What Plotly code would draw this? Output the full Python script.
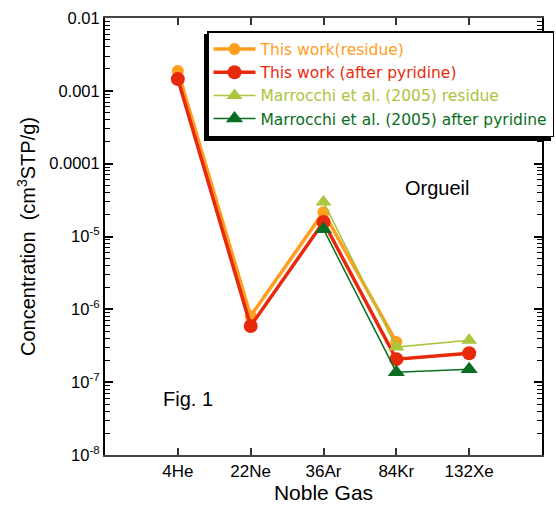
import plotly.graph_objects as go

gases = ["4He", "22Ne", "36Ar", "84Kr", "132Xe"]
this_residue = [1.87e-3, 8.1e-7, 2.16e-5, 3.55e-7, None]
this_pyridine = [1.45e-3, 5.9e-7, 1.58e-5, 2.07e-7, 2.5e-7]
marr_residue = [None, None, 2.97e-5, 3.03e-7, 3.77e-7]
marr_pyridine = [None, None, 1.26e-5, 1.37e-7, 1.51e-7]

ytickvals = [1e-2, 1e-3, 1e-4, 1e-5, 1e-6, 1e-7, 1e-8]
yticktext = ["0.01", "0.001", "0.0001", "10<sup>-5</sup>", "10<sup>-6</sup>",
             "10<sup>-7</sup>", "10<sup>-8</sup>"]

C_OR, C_RED, C_LG, C_DG = "#FF9E1F", "#E82A0C", "#A9C63C", "#0A6E22"
FONT = "Liberation Sans, Arial, sans-serif"
LFONT = "DejaVu Sans, Verdana, sans-serif"
xs = list(range(len(gases)))
minor_vals = [m * 10.0 ** e for e in range(-8, -2) for m in range(2, 10)]

W, H = 556, 506
ML, MR, MT, MB = 105, 14, 18, 51
PW, PH = W - ML - MR, H - MT - MB


def px(x):
    return (x - ML) / PW


def py(y):
    return (H - MB - y) / PH


def lab(text, color):
    return f"<span style='color:{color}'>{text}</span>"


fig = go.Figure()
fig.add_trace(go.Scatter(x=xs, y=this_residue, name=lab("This work(residue)", C_OR), mode="lines+markers",
                         line=dict(color=C_OR, width=3.5),
                         marker=dict(symbol="circle", size=12, color=C_OR)))
fig.add_trace(go.Scatter(x=xs, y=this_pyridine, name=lab("This work (after pyridine)", C_RED), mode="lines+markers",
                         line=dict(color=C_RED, width=3.5),
                         marker=dict(symbol="circle", size=14, color=C_RED)))
fig.add_trace(go.Scatter(x=xs, y=marr_residue, name=lab("Marrocchi et al. (2005) residue", C_LG), mode="lines+markers",
                         line=dict(color=C_LG, width=1.5),
                         marker=dict(symbol="triangle-up", size=14, color=C_LG)))
fig.add_trace(go.Scatter(x=xs, y=marr_pyridine, name=lab("Marrocchi et al. (2005) after pyridine", C_DG), mode="lines+markers",
                         line=dict(color=C_DG, width=1.5),
                         marker=dict(symbol="triangle-up", size=15, color=C_DG)))

fig.update_layout(
    width=W, height=H,
    margin=dict(l=ML, r=MR, t=MT, b=MB, autoexpand=False),
    paper_bgcolor="white", plot_bgcolor="white",
    font=dict(family=FONT, size=16, color="black"),
    showlegend=True,
    legend=dict(x=px(207), y=py(31), xanchor="left", yanchor="top",
                bgcolor="white", bordercolor="black", borderwidth=1.5,
                font=dict(size=15.5, family=LFONT), tracegroupgap=0,
                itemwidth=42),
    xaxis=dict(
        range=[-1, 5], tickmode="array", tickvals=xs, ticktext=gases,
        ticks="inside", ticklen=7, tickcolor="#333", tickwidth=1.5,
        showline=True, linecolor="#444", linewidth=2, mirror="ticks",
        showgrid=False, zeroline=False,
        title=dict(text="Noble Gas", font=dict(size=21, family=FONT), standoff=2),
        tickfont=dict(size=17, family=FONT),
    ),
    yaxis=dict(
        type="log", range=[-8, -2], tickmode="array", tickvals=ytickvals, ticktext=yticktext,
        ticks="inside", ticklen=8, tickcolor="black", tickwidth=1.5,
        showline=True, linecolor="black", linewidth=2, mirror="ticks",
        showgrid=False, zeroline=False,
        minor=dict(ticks="inside", ticklen=5, tickcolor="black", tickwidth=1,
                   tickmode="array", tickvals=minor_vals, showgrid=False),
        title=dict(text="Concentration  (cm<sup>3</sup>STP/g)", font=dict(size=20, family=FONT), standoff=8),
        tickfont=dict(size=16.5, family=FONT),
    ),
    shapes=[
        dict(type="rect", xref="paper", yref="paper", x0=px(204), x1=px(551), y0=py(34), y1=py(141),
             fillcolor="black", line=dict(width=0), layer="above"),
    ],
    annotations=[
        dict(text="Orgueil", x=px(471), y=py(188), xref="paper", yref="paper", showarrow=False,
             font=dict(size=20, family=FONT)),
        dict(text="Fig. 1", x=px(161), y=py(412), xref="paper", yref="paper", showarrow=False,
             font=dict(size=20, family=FONT)),
    ],
)

fig.write_html("out.html")
